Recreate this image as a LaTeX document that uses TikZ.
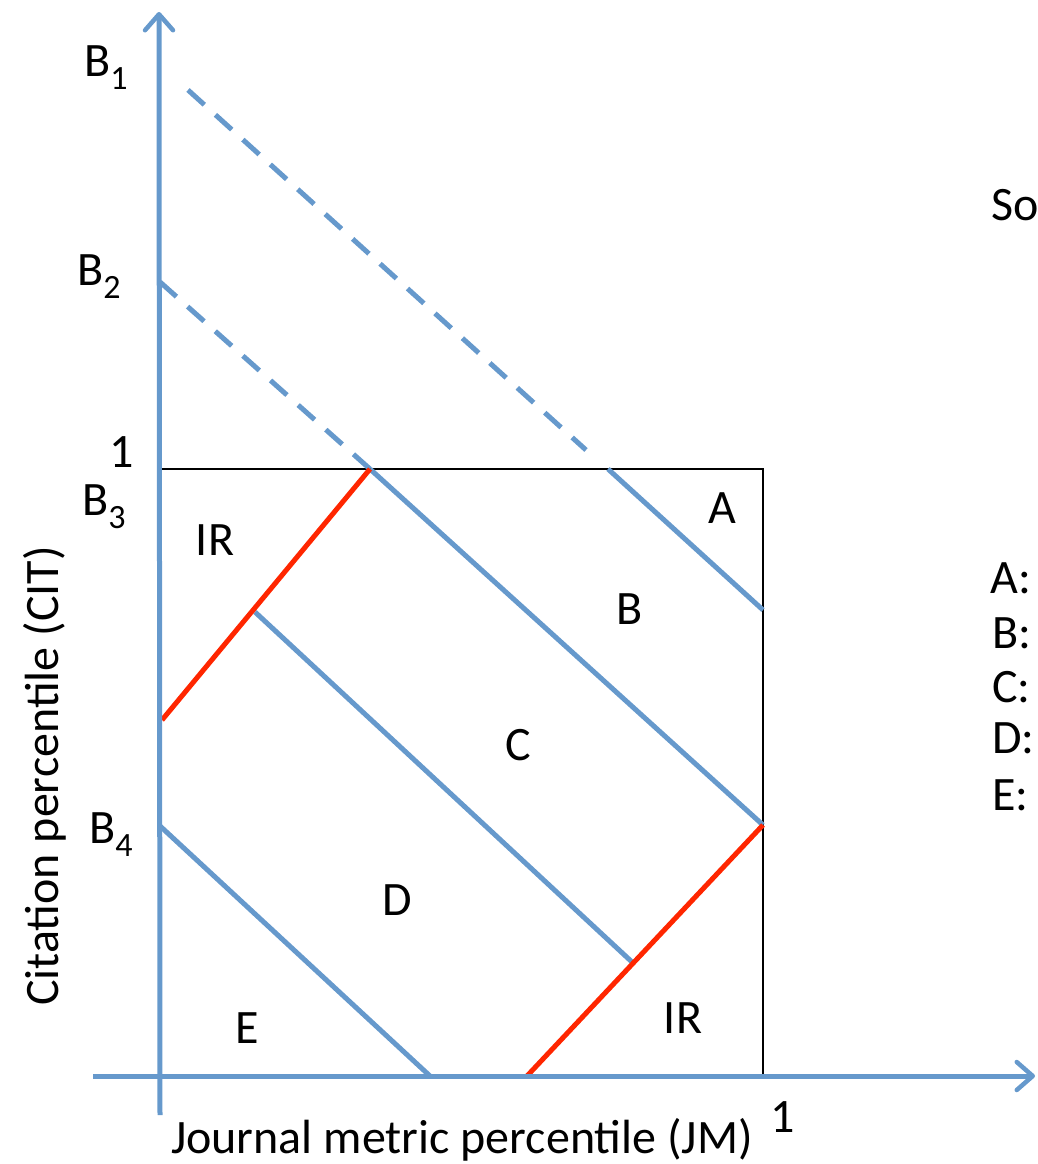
\documentclass[tikz,border=0pt]{standalone}
\usepackage{fontspec}
\setmainfont{Carlito}
\usetikzlibrary{arrows.meta}
\definecolor{axblue}{RGB}{102,153,204}
\definecolor{bdred}{RGB}{255,38,0}
\newcommand\sbs[1]{\raisebox{-13pt}{\fontsize{34}{34}\selectfont #1}}
\begin{document}
\begin{tikzpicture}[x=1pt,y=-1pt,
  axisline/.style={axblue, line width=5pt, -{Straight Barb[length=16pt,width=28pt,line width=4.5pt,round]}},
  blueline/.style={axblue, line width=5pt},
  dashline/.style={axblue, line width=5pt, dash pattern=on 22pt off 15pt},
  redline/.style={bdred, line width=5pt},
  boxline/.style={black, line width=1.5pt},
  lbl/.style={font=\fontsize{48}{54}\selectfont, inner sep=0pt, text=black},
]
\useasboundingbox (0,0) rectangle (1037,1164);

% named points
\coordinate (TL) at (160,469);
\coordinate (BR) at (763,1076);
\coordinate (yb) at (160,1115);
\coordinate (yt) at (159,12);
\coordinate (xl) at (93,1076);
\coordinate (xr) at (1035,1076);
\coordinate (d1s) at (188,90);
\coordinate (d1e) at (586,450);
\coordinate (d2s) at (160,282);
\coordinate (p1) at (608,469);
\coordinate (p2) at (763,610);
\coordinate (q1) at (370,469);
\coordinate (q2) at (763,825);
\coordinate (r1) at (255,612);
\coordinate (r2) at (632,962);
\coordinate (s1) at (160,826);
\coordinate (s2) at (430,1076);
\coordinate (red1a) at (162,720);
\coordinate (red2a) at (527,1076);

% box
\draw[boxline] (TL) rectangle (BR);

% dashed lines
\draw[dashline] (d1s) -- (d1e);
\draw[dashline] (d2s) -- (q1);

% blue region boundaries
\draw[blueline] (p1) -- (p2);
\draw[blueline] (q1) -- (q2);
\draw[blueline] (r1) -- (r2);
\draw[blueline] (s1) -- (s2);

% red lines
\draw[redline] (red1a) -- (q1);
\draw[redline] (red2a) -- (q2);

% axes
\draw[axisline] (yb) -- (yt);
\draw[axisline] (xl) -- (xr);

% axis labels
\node[lbl, anchor=base west] (lB1) at (84,77) {B\sbs{1}};
\node[lbl, anchor=base west] (lB2) at (77,285) {B\sbs{2}};
\node[lbl, anchor=base east] (ly1) at (134,467) {1};
\node[lbl, anchor=base west] (lB3) at (82,515) {B\sbs{3}};
\node[lbl, anchor=base west] (lB4) at (89,843) {B\sbs{4}};
\node[lbl, anchor=base west] (lx1) at (770,1132) {1};
\node[lbl, anchor=base] (xlab) at (462,1153) {Journal metric percentile (JM)};
\node[lbl, anchor=base, rotate=90] (ylab) at (58,776) {Citation percentile (CIT)};

% region labels
\node[lbl, anchor=base] (rA) at (722,523) {A};
\node[lbl, anchor=base] (rIR1) at (215,555) {IR};
\node[lbl, anchor=base] (rB) at (630,624) {B};
\node[lbl, anchor=base] (rC) at (518,760) {C};
\node[lbl, anchor=base] (rD) at (397,915) {D};
\node[lbl, anchor=base] (rE) at (247,1043) {E};
\node[lbl, anchor=base] (rIR2) at (683,1033) {IR};

% legend (cut off at right edge)
\node[lbl, anchor=base west] (so) at (991,220) {So};
\node[lbl, anchor=base west] (kA) at (990,593) {A:};
\node[lbl, anchor=base west] (kB) at (992,648) {B:};
\node[lbl, anchor=base west] (kC) at (992,702) {C:};
\node[lbl, anchor=base west] (kD) at (992,753) {D:};
\node[lbl, anchor=base west] (kE) at (992,810) {E:};
\end{tikzpicture}
\end{document}
